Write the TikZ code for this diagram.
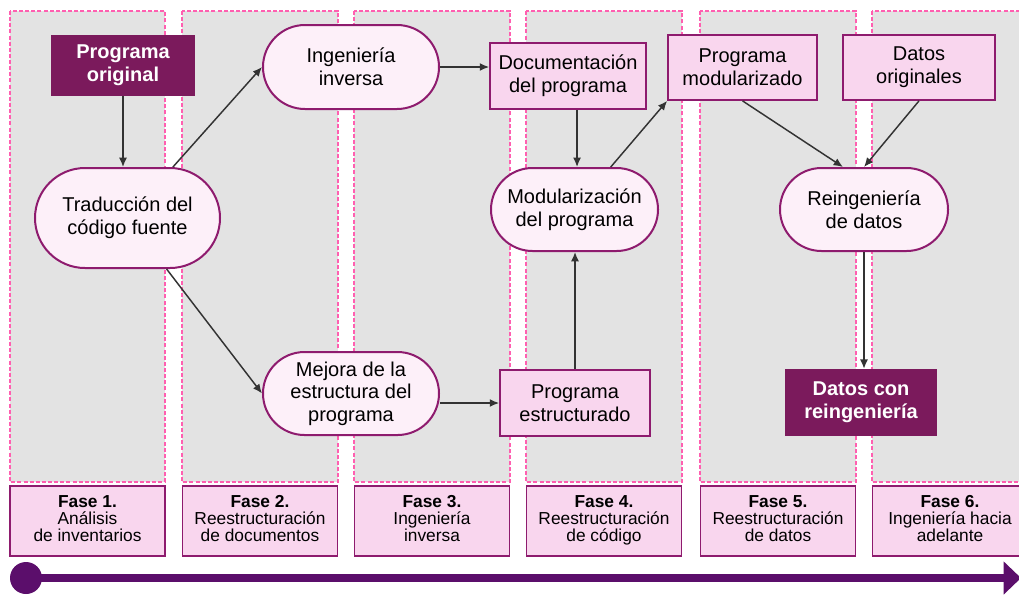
\documentclass[tikz,border=0pt]{standalone}
\usepackage{fontspec}
\setmainfont{Liberation Sans}
\usetikzlibrary{shapes.misc,arrows.meta}
\definecolor{colgray}{HTML}{E3E3E3}
\definecolor{dashpink}{HTML}{FF5FB0}
\definecolor{bord}{HTML}{8E1B6E}
\definecolor{stadfill}{HTML}{FDF0F9}
\definecolor{rectfill}{HTML}{F9D6EE}
\definecolor{darkbox}{HTML}{7B1A5C}
\definecolor{tl}{HTML}{5B0E6B}
\definecolor{arrowc}{HTML}{333333}
\tikzset{
  colbox/.style={fill=colgray, draw=dashpink, line width=0.8pt, dash pattern=on 3pt off 1.6pt},
  phase/.style={rectangle, fill=rectfill, draw=bord, line width=1.3pt, minimum width=116.25pt, minimum height=52.5pt, inner sep=0pt, align=center, font=\fontsize{13}{12.6}\selectfont},
  stad/.style={rounded rectangle, fill=stadfill, draw=bord, line width=1.5pt, inner sep=0pt, align=center, font=\fontsize{15}{17}\selectfont},
  pbox/.style={rectangle, fill=rectfill, draw=bord, line width=1.3pt, inner sep=0pt, align=center, font=\fontsize{15}{17}\selectfont},
  dbox/.style={rectangle, fill=darkbox, text=white, inner sep=0pt, align=center, font=\fontsize{15}{17}\selectfont\bfseries},
  arr/.style={draw=arrowc, line width=1.1pt, -{Latex[length=7pt,width=6pt]}}
}
\begin{document}
\begin{tikzpicture}[x=0.75pt,y=-0.75pt]
\clip (0,0) rectangle (1019,594);
\fill[white] (0,0) rectangle (1019,594);
% columns
\draw[colbox] (10,11) rectangle (165,482);
\draw[colbox] (182,11) rectangle (338,482);
\draw[colbox] (354,11) rectangle (510,482);
\draw[colbox] (526,11) rectangle (682,482);
\draw[colbox] (700,11) rectangle (856,482);
\draw[colbox] (872,11) rectangle (1030,482);
% phase boxes
\node[phase] (ph1) at (87.5,521) {\textbf{Fase 1.}\\Análisis\\de inventarios\strut};
\node[phase] (ph2) at (260,521) {\textbf{Fase 2.}\\Reestructuración\\de documentos\strut};
\node[phase] (ph3) at (432,521) {\textbf{Fase 3.}\\Ingeniería\\inversa\strut};
\node[phase] (ph4) at (604,521) {\textbf{Fase 4.}\\Reestructuración\\de código\strut};
\node[phase] (ph5) at (778,521) {\textbf{Fase 5.}\\Reestructuración\\de datos\strut};
\node[phase] (ph6) at (950,521) {\textbf{Fase 6.}\\Ingeniería hacia\\adelante\strut};
% timeline
\node[circle, fill=tl, minimum size=24pt, inner sep=0pt] (dot) at (26,578) {};
\coordinate (tend) at (1021,578);
\draw[tl, line width=6pt, -{Triangle[length=13pt,width=24pt]}] (dot.center) -- (tend);
% nodes
\node[dbox, minimum width=108pt, minimum height=45.75pt] (orig) at (123,65.5) {Programa\\original};
\node[stad, minimum width=138.75pt, minimum height=75pt] (trad) at (127.5,218) {Traducción del\\código fuente};
\node[stad, minimum width=132pt, minimum height=63pt] (inginv) at (351,67) {Ingeniería\\inversa};
\node[pbox, minimum width=117pt, minimum height=49.5pt] (doc) at (568,76) {Documentación\\del programa};
\node[stad, minimum width=125.25pt, minimum height=62.25pt] (modul) at (574.5,209.5) {Modularización\\del programa};
\node[pbox, minimum width=111.75pt, minimum height=48.75pt] (progmod) at (742.5,67.5) {Programa\\modularizado};
\node[pbox, minimum width=114pt, minimum height=48.75pt] (datorig) at (919,67.5) {Datos\\originales};
\node[stad, minimum width=126pt, minimum height=62.25pt] (reing) at (864,209.5) {Reingeniería\\de datos};
\node[stad, minimum width=132pt, minimum height=62.25pt] (mejora) at (351,393.5) {Mejora de la\\estructura del\\programa};
\node[pbox, minimum width=112.5pt, minimum height=49.5pt] (progest) at (575,403) {Programa\\estructurado};
\node[dbox, minimum width=114pt, minimum height=50.25pt] (datrein) at (861,402.5) {Datos con\\reingeniería};
% connectors
\draw[arr] (orig.south) -- (orig.south |- trad.north);
\draw[arr] (trad) -- (inginv.west);
\draw[arr] (trad) -- (mejora.west);
\draw[arr] (inginv.east) -- (doc.west |- inginv.east);
\draw[arr] ([xshift=1.9pt]doc.south -| modul.north) -- ([xshift=1.9pt]modul.north);
\draw[arr] (progest.north) -- (progest.north |- modul.south);
\draw[arr] (progest.west -| mejora.east) -- (progest.west);
\draw[arr] (modul) -- (progmod.south west);
\draw[arr] (progmod.south) -- ([xshift=-15.75pt]reing.north);
\draw[arr] (datorig.south) -- (reing.north);
\draw[arr] (reing.south) -- (reing.south |- datrein.north);
\end{tikzpicture}
\end{document}
